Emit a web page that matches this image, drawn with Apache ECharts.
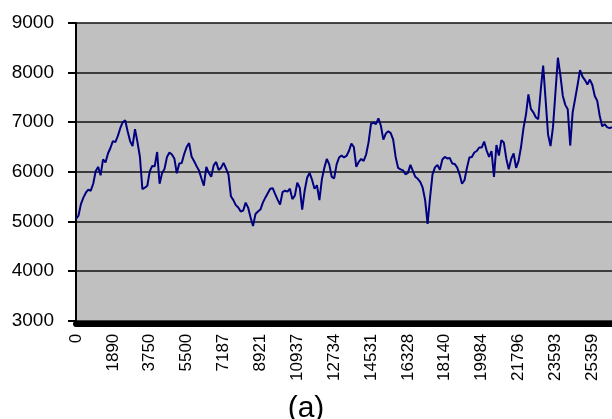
<!DOCTYPE html>
<html>
<head>
<meta charset="utf-8">
<script src="https://cdn.jsdelivr.net/npm/echarts@6/dist/echarts.min.js"></script>
<style>
  html, body { margin: 0; padding: 0; background: #fff; }
  #chart { width: 612px; height: 419px; }
</style>
</head>
<body>
<div id="chart"></div>
<script>
// Category labels printed under the axis, one every STEP samples
const tickLabels = ['0', '1890', '3750', '5500', '7187', '8921', '10937', '12734',
  '14531', '16328', '18140', '19984', '21796', '23593', '25359'];
const STEP = 15;

// Sampled series values (one per category slot)
const seriesValues = [
  5050, 5115, 5350, 5480, 5580, 5640, 5620, 5760, 6010, 6100,
  5930, 6250, 6190, 6370, 6480, 6620, 6600, 6720, 6880, 7000,
  7040, 6820, 6620, 6520, 6860, 6600, 6300, 5650, 5680, 5720,
  6010, 6120, 6110, 6400, 5760, 5970, 6060, 6300, 6390, 6350,
  6270, 5970, 6170, 6180, 6360, 6500, 6580, 6310, 6220, 6120,
  6030, 5870, 5720, 6100, 5980, 5900, 6130, 6200, 6040, 6080,
  6180, 6070, 5950, 5510, 5430, 5330, 5280, 5200, 5220, 5380,
  5280, 5080, 4910, 5150, 5200, 5240, 5380, 5480, 5570, 5660,
  5670, 5550, 5440, 5340, 5590, 5620, 5600, 5660, 5450, 5520,
  5780, 5680, 5240, 5620, 5880, 5980, 5840, 5660, 5730, 5430,
  5850, 6080, 6260, 6150, 5900, 5870, 6150, 6290, 6330, 6290,
  6320, 6420, 6570, 6500, 6100, 6200, 6260, 6220, 6350, 6600,
  6970, 6990, 6960, 7080, 6930, 6650, 6770, 6820, 6780, 6650,
  6300, 6080, 6050, 6030, 5950, 5980, 6140, 6020, 5900, 5860,
  5800, 5680, 5430, 4950, 5480, 5950, 6090, 6140, 6040, 6250,
  6300, 6270, 6280, 6170, 6160, 6090, 5950, 5760, 5830, 6080,
  6290, 6300, 6390, 6420, 6490, 6490, 6610, 6430, 6300, 6420,
  5900, 6540, 6330, 6640, 6590, 6270, 6050, 6260, 6370, 6080,
  6220, 6500, 6880, 7150, 7560, 7270, 7200, 7100, 7060, 7640,
  8140, 7450, 6750, 6520, 6900, 7600, 8300, 7950, 7530, 7350,
  7260, 6530, 7200, 7470, 7750, 8050, 7920, 7850, 7760, 7860,
  7750, 7530, 7430, 7130, 6920, 6960, 6900, 6880, 6900
];

const categories = seriesValues.map((_, i) => String(i));

const chart = echarts.init(document.getElementById('chart'), null, { renderer: 'canvas' });

chart.setOption({
  animation: false,
  backgroundColor: '#ffffff',
  title: {
    text: '(a)',
    left: 'center',
    top: 389,
    textStyle: { fontFamily: 'Liberation Sans', fontSize: 30, fontWeight: 'normal', color: '#000' }
  },
  grid: {
    left: 76,
    top: 23,
    width: 540.6,
    height: 297.7,
    show: true,
    backgroundColor: '#c0c0c0',
    borderWidth: 0
  },
  xAxis: {
    type: 'category',
    data: categories,
    boundaryGap: false,
    offset: 3,
    axisLine: { show: true, lineStyle: { color: '#000', width: 6 } },
    axisTick: { show: false },
    splitLine: { show: false },
    axisLabel: {
      interval: STEP - 1,
      rotate: 90,
      margin: 10,
      fontFamily: 'Liberation Sans',
      fontSize: 17,
      color: '#000',
      formatter: (v, idx) => tickLabels[Math.round(idx / STEP)] || ''
    }
  },
  yAxis: {
    type: 'value',
    min: 3000,
    max: 9000,
    interval: 1000,
    axisLine: { show: true, lineStyle: { color: '#000', width: 2 } },
    axisTick: { show: true, length: 8, lineStyle: { color: '#000', width: 2 } },
    axisLabel: {
      margin: 22,
      fontFamily: 'Liberation Sans',
      fontSize: 19,
      color: '#000',
      formatter: v => String(v)
    },
    splitLine: { show: true, lineStyle: { color: '#111', width: 1.6 } }
  },
  series: [{
    type: 'line',
    data: seriesValues,
    showSymbol: false,
    smooth: false,
    lineStyle: { color: '#000080', width: 2 },
    itemStyle: { color: '#000080' }
  }]
});
</script>
</body>
</html>
